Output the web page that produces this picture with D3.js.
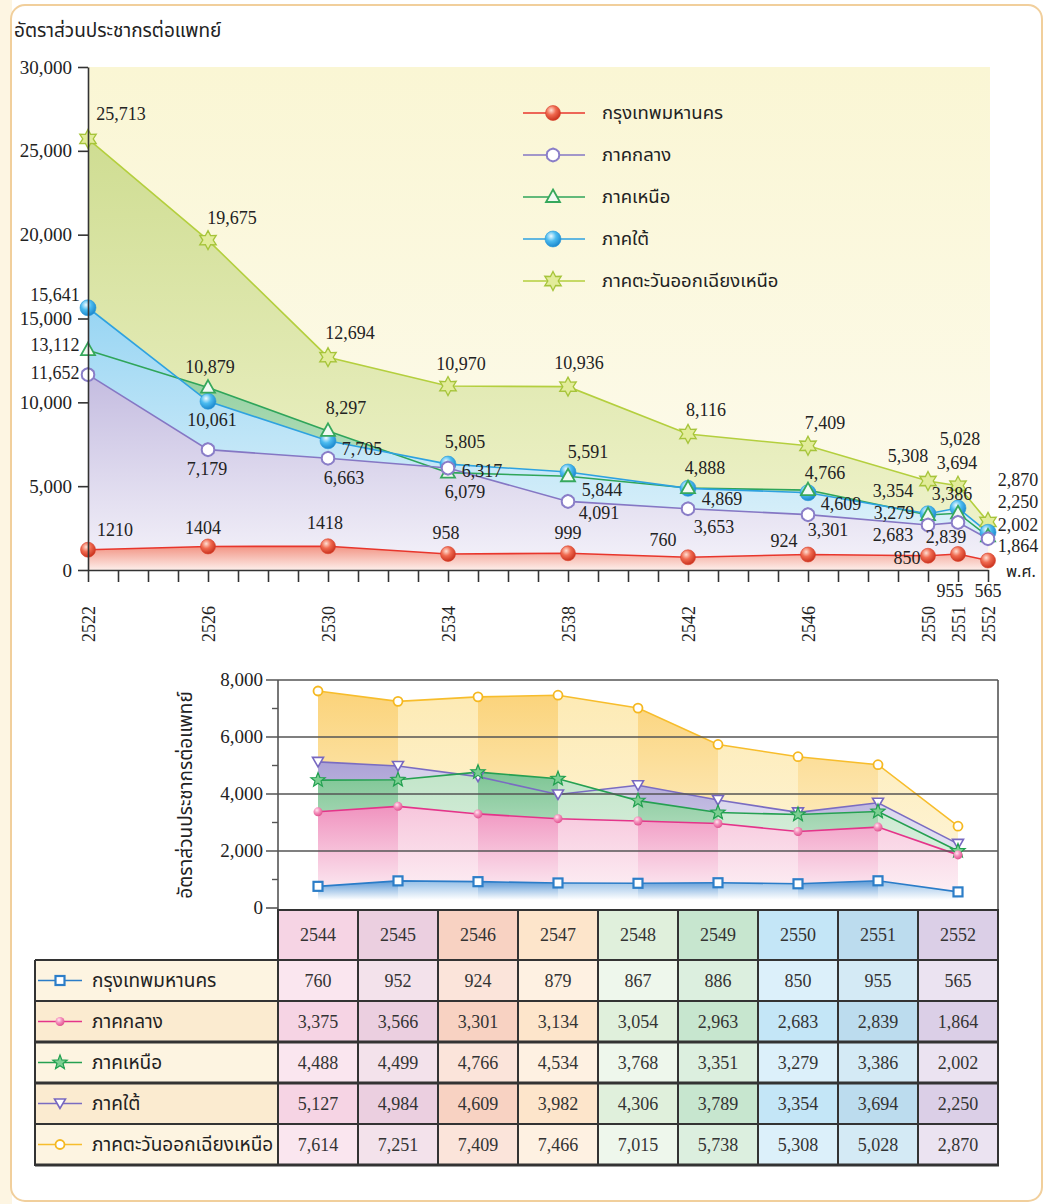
<!DOCTYPE html>
<html><head><meta charset="utf-8">
<script src="https://cdn.jsdelivr.net/npm/d3@7"></script>
<style>body{margin:0;background:#fff;} svg{display:block;}</style>
</head><body>
<svg id="c" width="1044" height="1204"></svg>
<script>
// ---------- DATA (top chart) ----------
const years = [2522, 2526, 2530, 2534, 2538, 2542, 2546, 2550, 2551, 2552];
const bangkok   = [1210, 1404, 1418, 958, 999, 760, 924, 850, 955, 565];
const central   = [11652, 7179, 6663, 6079, 4091, 3653, 3301, 2683, 2839, 1864];
const north     = [13112, 10879, 8297, 5805, 5591, 4888, 4766, 3279, 3386, 2002];
const south     = [15641, 10061, 7705, 6317, 5844, 4869, 4609, 3354, 3694, 2250];
const northeast = [25713, 19675, 12694, 10970, 10936, 8116, 7409, 5308, 5028, 2870];
const seriesNames = ["กรุงเทพมหานคร", "ภาคกลาง", "ภาคเหนือ", "ภาคใต้", "ภาคตะวันออกเฉียงเหนือ"];
const yTicksTop = [0, 5000, 10000, 15000, 20000, 25000, 30000];

// ---------- DATA (bottom chart + table) ----------
const tableYears = [2544, 2545, 2546, 2547, 2548, 2549, 2550, 2551, 2552];
const bangkokT   = [760, 952, 924, 879, 867, 886, 850, 955, 565];
const centralT   = [3375, 3566, 3301, 3134, 3054, 2963, 2683, 2839, 1864];
const northT     = [4488, 4499, 4766, 4534, 3768, 3351, 3279, 3386, 2002];
const southT     = [5127, 4984, 4609, 3982, 4306, 3789, 3354, 3694, 2250];
const northeastT = [7614, 7251, 7409, 7466, 7015, 5738, 5308, 5028, 2870];
const yTicksBottom = [0, 2000, 4000, 6000, 8000];

// ---------- annotation nudges (pixels, label centre relative to point) ----------
const labelNudge = {
  ne:      [[33,-25],[24,-22],[22,-24],[13,-22],[11,-24],[18,-24],[17,-23],[-20,-25],[2,-47],[30,-42]],
  bkk:     [[27,-20],[-5,-18],[-3,-23],[-2,-21],[0,-20],[-25,-17],[-24,-14],[-21,2],[-8,37],[0,30]],
  central: [[-33,-2],[-1,19],[16,20],[17,24],[31,12],[26,18],[20,15],[-35,10],[-12,15],[30,7]],
  north:   [[-33,-5],[2,-21],[18,-23],[17,-31],[20,-24],[17,-20],[17,-17],[-34,-2],[-6,-19],[30,-11]],
  south:   [[-33,-13],[4,19],[34,8],[34,7],[34,18],[34,11],[33,11],[-35,-23],[-1,-45],[30,-30]]
};

const THAI = '"Noto Sans Thai","Noto Sans Thai UI","Noto Sans Thai Looped",Loma,Garuda,Norasi,"Noto Sans",sans-serif';
const SERIF = '"Liberation Serif","DejaVu Serif",serif';

const svg = d3.select("#c");
const defs = svg.append("defs");
function vgrad(id, stops, ya, yb) {
  const g = defs.append("linearGradient").attr("id", id)
    .attr("gradientUnits", "userSpaceOnUse").attr("x1", 0).attr("x2", 0).attr("y1", ya).attr("y2", yb);
  stops.forEach(s => g.append("stop").attr("offset", s[0]).attr("stop-color", s[1]).attr("stop-opacity", s[2] == null ? 1 : s[2]));
}
function rgrad(id, c0, c1, c2) {
  const g = defs.append("radialGradient").attr("id", id).attr("cx", "38%").attr("cy", "32%").attr("r", "70%");
  g.append("stop").attr("offset", 0).attr("stop-color", c0);
  g.append("stop").attr("offset", 0.45).attr("stop-color", c1);
  g.append("stop").attr("offset", 1).attr("stop-color", c2);
}
rgrad("gRed", "#ffe0d4", "#f06a50", "#c8301c");
rgrad("gBlue", "#eefaff", "#4cbcf0", "#1a86cc");
rgrad("gPink", "#ffe6f0", "#f490bc", "#e0508e");

// ---------- page frame ----------
svg.append("rect").attr("x", 0).attr("y", 0).attr("width", 12).attr("height", 1204).attr("fill", "#fdf5e2");
svg.append("rect").attr("x", 11).attr("y", 5).attr("width", 1031).attr("height", 1196).attr("rx", 14)
  .attr("fill", "#fff").attr("stroke", "#f1cf9c").attr("stroke-width", 2);

svg.append("text").attr("x", 14).attr("y", 37).style("font-family", THAI).style("font-size", "19px")
  .attr("fill", "#222").text("อัตราส่วนประชากรต่อแพทย์");

// ---------- marker painter ----------
function star(n, R, r) {
  const pts = [];
  for (let i = 0; i < n * 2; i++) {
    const a = Math.PI * i / n - Math.PI / 2, rr = i % 2 ? r : R;
    pts.push([rr * Math.cos(a), rr * Math.sin(a)]);
  }
  return "M" + pts.map(p => p.join(",")).join("L") + "Z";
}
function marker(g, type, x, y) {
  const t = g.append("g").attr("transform", `translate(${x},${y})`);
  switch (type) {
    case "redball": t.append("circle").attr("r", 7.5).attr("fill", "url(#gRed)").attr("stroke", "#d8402a").attr("stroke-width", 0.6); break;
    case "blueball": t.append("circle").attr("r", 8).attr("fill", "url(#gBlue)").attr("stroke", "#2a98d8").attr("stroke-width", 0.6); break;
    case "hexo": t.append("path").attr("d", star(6, 6.5, 6.3)).attr("fill", "#fff").attr("stroke", "#8a7ec8").attr("stroke-width", 2); break;
    case "tri": t.append("path").attr("d", "M0,-7.5L7,5L-7,5Z").attr("fill", "#f2faf2").attr("stroke", "#36a85c").attr("stroke-width", 1.8); break;
    case "star6": t.append("path").attr("d", star(6, 9.5, 5.2)).attr("fill", "#e2ec9a").attr("stroke", "#a6c43a").attr("stroke-width", 1.3); break;
    case "sq": t.append("rect").attr("x", -4.5).attr("y", -4.5).attr("width", 9).attr("height", 9).attr("fill", "#fff").attr("stroke", "#2c7ec8").attr("stroke-width", 2.2); break;
    case "pinkball": t.append("circle").attr("r", 4.5).attr("fill", "url(#gPink)"); break;
    case "star5": t.append("path").attr("d", star(5, 7.5, 3.2)).attr("fill", "#7ccf92").attr("stroke", "#22a050").attr("stroke-width", 1.2); break;
    case "tridown": t.append("path").attr("d", "M0,5L-5.5,-4.5L5.5,-4.5Z").attr("fill", "#fff").attr("stroke", "#7868c0").attr("stroke-width", 1.6); break;
    case "ringY": t.append("circle").attr("r", 4.5).attr("fill", "#fff").attr("stroke", "#f5b820").attr("stroke-width", 1.8); break;
  }
}

// =================== TOP CHART ===================
const x1 = d3.scaleLinear().domain([2522, 2552]).range([88, 988]);
const y1 = d3.scaleLinear().domain([0, 30000]).range([570, 67]);
vgrad("panel", [[0, "#faf6d4"], [1, "#fdfbee"]], 67, 570);
svg.append("rect").attr("x", 88).attr("y", 67).attr("width", 902).attr("height", 503).attr("fill", "url(#panel)");

const topSeries = {
  ne:      {vals: northeast, line: "#b4cf3e", g0: "#cfdd92", g1: "#f1f4cf", mk: "star6"},
  north:   {vals: north,     line: "#2fa55a", g0: "#8ccc9a", g1: "#d8f0da", mk: "tri"},
  south:   {vals: south,     line: "#2ea2e0", g0: "#98d5f3", g1: "#e6f5fb", mk: "blueball"},
  central: {vals: central,   line: "#8577c4", g0: "#c4bce0", g1: "#f5f3fa", mk: "hexo"},
  bkk:     {vals: bangkok,   line: "#e8362c", g0: "#f29484", g1: "#fdeeea", mk: "redball"}
};
const areaOrder = ["ne", "north", "south", "central", "bkk"];
const gTop = svg.append("g");
areaOrder.forEach(k => {
  const s = topSeries[k];
  vgrad("ga_" + k, [[0, s.g0], [1, s.g1]], y1(d3.max(s.vals)), 570);
  const area = d3.area().x((d, i) => x1(years[i])).y0(y1(0)).y1(d => y1(d));
  gTop.append("path").datum(s.vals).attr("d", area).attr("fill", `url(#ga_${k})`);
});
areaOrder.forEach(k => {
  const s = topSeries[k];
  const line = d3.line().x((d, i) => x1(years[i])).y(d => y1(d));
  gTop.append("path").datum(s.vals).attr("d", line).attr("fill", "none").attr("stroke", s.line).attr("stroke-width", 1.6);
});

// axes
const yAx = svg.append("g").attr("transform", "translate(88,0)")
  .call(d3.axisLeft(y1).tickValues(yTicksTop).tickSize(10).tickSizeOuter(0).tickPadding(6).tickFormat(d3.format(",")));
yAx.attr("font-family", null).attr("font-size", null);
yAx.selectAll("text").style("font-family", SERIF).style("font-size", "19px").attr("fill", "#222");
yAx.selectAll("line,path").attr("stroke", "#333").attr("stroke-width", 1.6);
const xAx = svg.append("g").attr("transform", "translate(0,570)")
  .call(d3.axisBottom(x1).tickValues(d3.range(2522, 2553)).tickSize(12).tickSizeOuter(0).tickFormat(""));
xAx.selectAll("line,path").attr("stroke", "#333").attr("stroke-width", 1.6);
svg.append("g").selectAll("text").data(years).join("text")
  .attr("transform", d => `translate(${x1(d) + 1},624) rotate(-90)`)
  .attr("text-anchor", "middle").attr("dy", "0.35em")
  .style("font-family", SERIF).style("font-size", "18px").attr("fill", "#222").text(d => d);
svg.append("text").attr("x", 1006).attr("y", 577).style("font-family", THAI).style("font-size", "16px").attr("fill", "#222").text("พ.ศ.");

// markers
["ne", "south", "north", "central", "bkk"].forEach(k => {
  const s = topSeries[k];
  s.vals.forEach((v, i) => marker(gTop, s.mk, x1(years[i]), y1(v)));
});

// labels
const fmtC = d3.format(",");
["ne", "bkk", "central", "north", "south"].forEach(k => {
  const s = topSeries[k];
  s.vals.forEach((v, i) => {
    const [dx, dy] = labelNudge[k][i];
    gTop.append("text").attr("x", x1(years[i]) + dx).attr("y", y1(v) + dy + 6)
      .attr("text-anchor", "middle").style("font-family", SERIF).style("font-size", "18px").attr("fill", "#222")
      .text(k === "bkk" ? String(v) : fmtC(v));
  });
});

// legend
const legKeys = ["bkk", "central", "north", "south", "ne"];
const gLeg = svg.append("g");
legKeys.forEach((k, i) => {
  const yy = 113 + i * 42;
  gLeg.append("line").attr("x1", 523).attr("x2", 585).attr("y1", yy).attr("y2", yy).attr("stroke", topSeries[k].line).attr("stroke-width", 1.6);
  marker(gLeg, topSeries[k].mk, 553, yy);
  gLeg.append("text").attr("x", 602).attr("y", yy + 6).style("font-family", THAI).style("font-size", "18.5px").attr("fill", "#222").text(seriesNames[i]);
});

// =================== BOTTOM CHART ===================
const x2 = d3.scaleBand().domain(tableYears).range([278, 998]);
const cx = d => x2(d) + x2.bandwidth() / 2;
const y2 = d3.scaleLinear().domain([0, 8000]).range([908, 680]);
const botSeries = {
  ne:      {vals: northeastT, line: "#f7bd2c", dark: "#fbd37a", light: "#fdeab4", bot: "#fef6dc", mk: "ringY"},
  south:   {vals: southT,     line: "#7a6cc2", dark: "#aca2d6", light: "#d4cfea", bot: "#ecebf6", mk: "tridown"},
  north:   {vals: northT,     line: "#25a052", dark: "#7dc594", light: "#c2e5c9", bot: "#e6f4e8", mk: "star5"},
  central: {vals: centralT,   line: "#e4348a", dark: "#f093bf", light: "#f7c6dc", bot: "#fdf2f6", mk: "pinkball"},
  bkk:     {vals: bangkokT,   line: "#2a7cc8", dark: "#5a98d6", light: "#94bee6", bot: "#ffffff", mk: "sq"}
};
const botOrder = ["ne", "south", "north", "central", "bkk"];
svg.append("rect").attr("x", 278).attr("y", 680).attr("width", 720).attr("height", 228).attr("fill", "#fff");
const gBot = svg.append("g");
botOrder.forEach(k => {
  const s = botSeries[k];
  const top = y2(d3.max(s.vals));
  vgrad("gd_" + k, [[0, s.dark], [1, s.bot]], top, 900);
  vgrad("gl_" + k, [[0, s.light], [1, s.bot]], top, 900);
  const area = d3.area().x(d => cx(d.yr)).y0(y2(0) - 4).y1(d => y2(d.v));
  for (let i = 0; i < tableYears.length - 1; i++) {
    const seg = [{yr: tableYears[i], v: s.vals[i]}, {yr: tableYears[i + 1], v: s.vals[i + 1]}];
    gBot.append("path").datum(seg).attr("d", area).attr("fill", `url(#${i % 2 === 0 ? "gd_" : "gl_"}${k})`);
  }
});
// grid + frame
const gGrid = svg.append("g");
[2000, 4000, 6000].forEach(v => gGrid.append("line").attr("x1", 266).attr("x2", 998).attr("y1", y2(v)).attr("y2", y2(v)).attr("stroke", "#555").attr("stroke-width", 1.6));
[1000, 3000, 5000, 7000].forEach(v => gGrid.append("line").attr("x1", 272).attr("x2", 278).attr("y1", y2(v)).attr("y2", y2(v)).attr("stroke", "#555").attr("stroke-width", 1.4));
gGrid.append("line").attr("x1", 266).attr("x2", 998).attr("y1", y2(8000)).attr("y2", y2(8000)).attr("stroke", "#555").attr("stroke-width", 1.6);
gGrid.append("line").attr("x1", 266).attr("x2", 278).attr("y1", y2(0)).attr("y2", y2(0)).attr("stroke", "#555").attr("stroke-width", 1.6);
gGrid.append("line").attr("x1", 278).attr("x2", 278).attr("y1", 680).attr("y2", 910).attr("stroke", "#555").attr("stroke-width", 1.6);
gGrid.append("line").attr("x1", 998).attr("x2", 998).attr("y1", 680).attr("y2", 910).attr("stroke", "#555").attr("stroke-width", 1.6);
svg.append("g").selectAll("text").data(yTicksBottom).join("text")
  .attr("x", 263).attr("y", d => y2(d) + 6).attr("text-anchor", "end")
  .style("font-family", SERIF).style("font-size", "19px").attr("fill", "#222").text(d3.format(","));
svg.append("text").attr("transform", "translate(192,795) rotate(-90)").attr("text-anchor", "middle")
  .style("font-family", THAI).style("font-size", "19px").attr("fill", "#222").text("อัตราส่วนประชากรต่อแพทย์");
botOrder.forEach(k => {
  const s = botSeries[k];
  const line = d3.line().x((d, i) => cx(tableYears[i])).y(d => y2(d));
  gBot.append("path").datum(s.vals).attr("d", line).attr("fill", "none").attr("stroke", s.line).attr("stroke-width", 1.6);
});
const gBM = svg.append("g");
botOrder.forEach(k => {
  const s = botSeries[k];
  s.vals.forEach((v, i) => marker(gBM, s.mk, cx(tableYears[i]), y2(v)));
});

// =================== TABLE ===================
const headerFill = ["#f6d4e4", "#ebcfe0", "#f8d2c2", "#fde5cb", "#e0f0dc", "#c7e6cf", "#c4e6f7", "#bcdcee", "#dbcfe7"];
const lightFill  = ["#fae6ef", "#f3e2eb", "#fbe4da", "#fef1e2", "#eef7ec", "#dcefdf", "#dcf0fa", "#d4eaf5", "#ebe3f1"];
const rowKeys = ["bkk", "central", "north", "south", "ne"];
const rowTops = [960, 1001, 1042, 1083, 1124];
const rowH = 41;
const gT = svg.append("g");
tableYears.forEach((yr, j) => {
  const x0 = x2(yr);
  gT.append("rect").attr("x", x0).attr("y", 910).attr("width", 80).attr("height", 50).attr("fill", headerFill[j]);
  gT.append("text").attr("x", x0 + 40).attr("y", 941).attr("text-anchor", "middle").style("font-family", SERIF).style("font-size", "18px").attr("fill", "#333").text(yr);
  rowKeys.forEach((k, r) => {
    gT.append("rect").attr("x", x0).attr("y", rowTops[r]).attr("width", 80).attr("height", rowH).attr("fill", r % 2 ? headerFill[j] : lightFill[j]);
    gT.append("text").attr("x", x0 + 40).attr("y", rowTops[r] + 27).attr("text-anchor", "middle").style("font-family", SERIF).style("font-size", "18px").attr("fill", "#333")
      .text(fmtC(botSeries[k].vals[j]));
  });
});
rowKeys.forEach((k, r) => {
  const yy = rowTops[r] + rowH / 2;
  gT.append("rect").attr("x", 35).attr("y", rowTops[r]).attr("width", 243).attr("height", rowH).attr("fill", r % 2 ? "#fbebd0" : "#fdf4e1");
  gT.append("line").attr("x1", 38).attr("x2", 82).attr("y1", yy).attr("y2", yy).attr("stroke", botSeries[k].line).attr("stroke-width", 1.6);
  marker(gT, botSeries[k].mk, 60, yy);
  gT.append("text").attr("x", 92).attr("y", yy + 6).style("font-family", THAI).style("font-size", "19px").attr("fill", "#222").text(seriesNames[r]);
});
// borders
const hLines = [{y: 910, x0: 278, w: 2}, {y: 960, x0: 35, w: 2}, {y: 1001, x0: 35, w: 2}, {y: 1042, x0: 35, w: 3}, {y: 1083, x0: 35, w: 3}, {y: 1124, x0: 35, w: 2}, {y: 1165, x0: 35, w: 3}];
hLines.forEach(h => gT.append("line").attr("x1", h.x0).attr("x2", 999).attr("y1", h.y).attr("y2", h.y).attr("stroke", "#333").attr("stroke-width", h.w));
gT.append("line").attr("x1", 35).attr("x2", 35).attr("y1", 960).attr("y2", 1166).attr("stroke", "#333").attr("stroke-width", 2);
tableYears.concat([null]).forEach((yr, j) => {
  const xx = 278 + j * 80;
  gT.append("line").attr("x1", xx).attr("x2", xx).attr("y1", 909).attr("y2", 1166).attr("stroke", "#333").attr("stroke-width", 2);
});
</script>
</body></html>
